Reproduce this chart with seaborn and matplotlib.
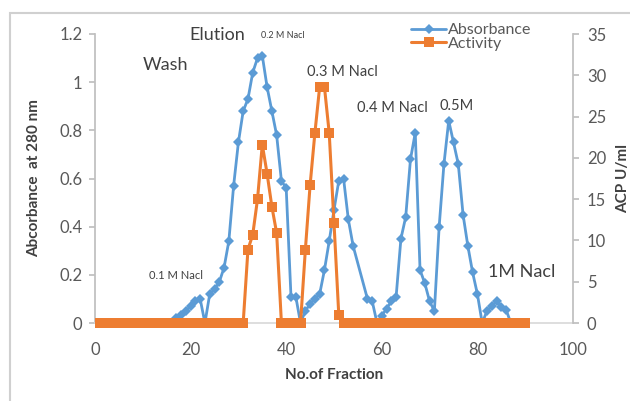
import numpy as np
import pandas as pd
import matplotlib
matplotlib.use("Agg")
import matplotlib.pyplot as plt
import seaborn as sns
from matplotlib.lines import Line2D
from matplotlib.patches import Rectangle
from matplotlib.ticker import FuncFormatter

# Absorbance at 280 nm (left axis)
abs_fraction = list(range(1, 55)) + list(range(57, 88))
abs_values = [0] * 16 + [
    0.02, 0.035, 0.05, 0.07, 0.09, 0.10, 0.0, 0.12, 0.14, 0.17,
    0.23, 0.34, 0.57, 0.75, 0.88, 0.93, 1.04, 1.10, 1.11, 0.98,
    0.88, 0.78, 0.59, 0.56, 0.11, 0.11, 0.0, 0.05, 0.08, 0.10,
    0.12, 0.22, 0.34, 0.47, 0.59, 0.60, 0.43, 0.32,
    0.10, 0.09, 0.0, 0.03, 0.06, 0.09, 0.11, 0.35, 0.44, 0.68,
    0.79, 0.22, 0.165, 0.09, 0.05, 0.40, 0.66, 0.84, 0.75, 0.66,
    0.45, 0.32, 0.21, 0.12, 0.0, 0.05, 0.07, 0.09, 0.065, 0.055, 0.0,
]

# ACP activity U/ml (right axis); fraction 56 missing
act_fraction = list(range(1, 56)) + list(range(57, 91))
act_values = [0] * 31 + [
    8.9, 10.7, 15.0, 21.6, 18.1, 14.1, 10.9,
    0, 0, 0, 0, 0,
    8.8, 16.7, 23.0, 28.6, 28.6, 23.0, 12.1, 1.0,
    0, 0, 0, 0,
] + [0] * 34

x_ticks = [0, 20, 40, 60, 80, 100]
left_ticks = [0, 0.2, 0.4, 0.6, 0.8, 1.0, 1.2]
right_ticks = [0, 5, 10, 15, 20, 25, 30, 35]

blue = "#5B9BD5"
orange = "#ED7D31"
axis_grey = "#BFBFBF"
text_grey = "#595959"

sns.set_theme(style="white")
plt.rcParams["font.family"] = ["Lato", "DejaVu Sans"]

df_abs = pd.DataFrame({"fraction": abs_fraction, "value": abs_values})
df_act = pd.DataFrame({"fraction": act_fraction, "value": act_values})
df_act["seg"] = np.where(df_act["fraction"] < 56, 0, 1)

fig = plt.figure(figsize=(6.3, 4.01), dpi=100)
ax = fig.add_axes([95 / 630, 1 - 323 / 401, 478 / 630, 289 / 401])
ax2 = ax.twinx()
ax.set_zorder(1)
ax2.set_zorder(2)
ax2.patch.set_visible(False)

sns.lineplot(data=df_abs, x="fraction", y="value", ax=ax, color=blue,
             marker="D", markersize=5, markeredgewidth=0, linewidth=2)
sns.lineplot(data=df_act, x="fraction", y="value", ax=ax2, color=orange,
             units="seg", estimator=None, marker="s", markersize=6.5,
             markeredgewidth=0, linewidth=2.2)
for line in ax.lines + ax2.lines:
    line.set_clip_on(False)

ax.set_xlim(0, 100)
ax.set_ylim(0, 1.2)
ax2.set_ylim(0, 35)
ax.set_xticks(x_ticks)
ax.set_yticks(left_ticks)
ax2.set_yticks(right_ticks)
ax.yaxis.set_major_formatter(FuncFormatter(lambda v, p: f"{v:g}"))

for a in (ax, ax2):
    for s in a.spines.values():
        s.set_visible(False)
ax.spines["left"].set_visible(True)
ax.spines["bottom"].set_visible(True)
ax2.spines["right"].set_visible(True)
ax.spines["left"].set_color(axis_grey)
ax.spines["bottom"].set_color("#D9D9D9")
ax2.spines["right"].set_color(axis_grey)

ax.tick_params(axis="y", direction="out", length=4, color=axis_grey,
               labelsize=12, labelcolor=text_grey, pad=5, left=True)
ax.tick_params(axis="x", direction="out", length=0, labelsize=12,
               labelcolor=text_grey, pad=14)
ax2.tick_params(axis="y", direction="out", length=4, color=axis_grey,
                labelsize=12, labelcolor=text_grey, pad=6, right=True)

ax.set_xlabel("No.of Fraction", fontsize=11, fontweight="bold",
              color="#404040", labelpad=7)
ax.set_ylabel("Abcorbance  at 280 nm", fontsize=11, fontweight="bold",
              color="#404040", labelpad=13)
ax2.set_ylabel("ACP U/ml", fontsize=11, fontweight="bold",
               color="#404040", labelpad=7)

handles = [
    Line2D([], [], color=blue, marker="D", markersize=5, markeredgewidth=0,
           linewidth=2),
    Line2D([], [], color=orange, marker="s", markersize=6.5,
           markeredgewidth=0, linewidth=2.2),
]
leg = fig.legend(handles, ["Absorbance", "Activity"], loc="upper left",
                 bbox_to_anchor=(411 / 630, 1 - 23 / 401), frameon=False,
                 fontsize=11.5, handlelength=2.2, handletextpad=0.1,
                 labelspacing=-0.05, borderaxespad=0, borderpad=0)
for t in leg.get_texts():
    t.set_color(text_grey)

notes = [
    ("Elution", 25.6, 1.195, 13),
    ("0.2 M Nacl", 39.2, 1.193, 6.5),
    ("Wash", 14.8, 1.071, 13),
    ("0.3 M Nacl", 51.7, 1.042, 10.5),
    ("0.4 M Nacl", 62.3, 0.893, 10.5),
    ("0.5M", 75.6, 0.901, 10.5),
    ("0.1 M Nacl", 16.9, 0.199, 8),
    ("1M Nacl", 89.2, 0.212, 13),
]
for label, x, y, size in notes:
    ax.text(x, y, label, fontsize=size, ha="center", va="center",
            color="#404040", clip_on=False)

fig.patches.append(Rectangle((10 / 630, -0.1), 1.2, 1.1 - 13 / 401,
                             transform=fig.transFigure, fill=False,
                             edgecolor="#D0D0D0", linewidth=1.5))

fig.savefig("out.png", dpi=100)
